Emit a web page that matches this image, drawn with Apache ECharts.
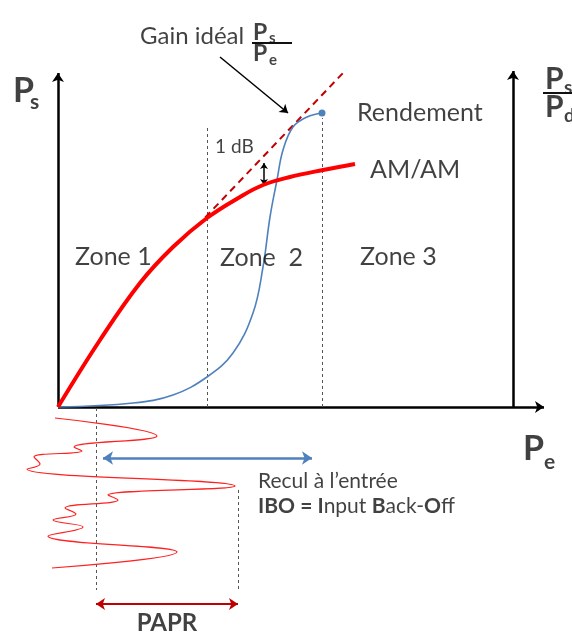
<!DOCTYPE html>
<html>
<head>
<meta charset="utf-8">
<script src="https://cdn.jsdelivr.net/npm/echarts@6/dist/echarts.min.js"></script>
<style>
  html, body { margin: 0; padding: 0; background: #fff; }
  #chart { width: 572px; height: 633px; }
</style>
</head>
<body>
<div id="chart"></div>
<script>
// repère : origine au coin des axes, Pe vers la droite, Ps vers le haut
const amam = [[0, 0], [42, 67], [82, 124], [115, 160], [149, 189], [182, 210], [205, 222], [232, 230], [265, 237], [297, 243]];
const rendement = [[0, 0], [75, 4], [115, 12], [149, 30], [175, 54], [195, 94], [205, 140], [212, 190], [219, 227], [225, 257], [235, 280], [249, 290], [264, 294]];
const gainIdeal = [[139, 181], [285, 334]];
const signal = [[-3, -11], [99, -29], [16, -40], [24, -44], [-24, -50], [-18, -57], [-31, -62], [177, -79], [50, -88], [60, -93], [7, -101], [18, -107], [-5, -113], [25, -120], [-10, -129], [119, -145], [-6, -161]];
const zoneLimits = [[149, 0, 280], [264, 0, 289]];
const papr = [38, 180];
const ibo = [45, 254];

const font = 'Lato';

const seg = (a, b) => ({ coords: [a, b] });

/** texte posé sur le repère */
const txt = (x, y, text, opt) => ({
    value: [x, y],
    label: Object.assign({ show: true, formatter: text, position: 'right', distance: 0, color: '#111', fontFamily: font, fontSize: 25 }, opt || {})
});

const labels = [
    txt(-45, 316, 'P', { fontSize: 34, fontWeight: 'bold' }),
    txt(-28, 305, 's', { fontSize: 21, fontWeight: 'bold' }),
    txt(465, -42, 'P', { fontSize: 34, fontWeight: 'bold' }),
    txt(486, -55, 'e', { fontSize: 21, fontWeight: 'bold' }),
    txt(487, 328, 'P', { fontSize: 30, fontWeight: 'bold' }),
    txt(506, 319, 's', { fontSize: 19, fontWeight: 'bold' }),
    txt(487, 300, 'P', { fontSize: 30, fontWeight: 'bold' }),
    txt(506, 291, 'dc', { fontSize: 19, fontWeight: 'bold' }),
    txt(82, 371, 'Gain idéal', { fontSize: 24 }),
    txt(195, 374, 'P', { fontSize: 23, fontWeight: 'bold' }),
    txt(211, 369, 's', { fontSize: 15, fontWeight: 'bold' }),
    txt(195, 353, 'P', { fontSize: 23, fontWeight: 'bold' }),
    txt(211, 347, 'e', { fontSize: 15, fontWeight: 'bold' }),
    txt(157, 260, '1 dB', { fontSize: 19 }),
    txt(17, 150, 'Zone 1'),
    txt(162, 149, 'Zone  2'),
    txt(302, 150, 'Zone 3'),
    txt(299, 294, 'Rendement'),
    txt(312, 237, 'AM/AM'),
    txt(200, -74, 'Recul à l’entrée', { fontSize: 21 }),
    txt(200, -99, '{b|IBO = I}{n|nput }{b|B}{n|ack-}{b|O}{n|ff}', {
        fontSize: 21,
        rich: {
            b: { fontFamily: font, fontSize: 21, fontWeight: 'bold', color: '#111' },
            n: { fontFamily: font, fontSize: 21, color: '#111' }
        }
    }),
    txt(109, -216, 'PAPR', { position: 'inside', fontSize: 24, fontWeight: 'bold' })
];

const chart = echarts.init(document.getElementById('chart'));

const options = {
    backgroundColor: '#fff',
    animation: false,
    grid: { left: 0, right: 0, top: 0, bottom: 0 },
    xAxis: { type: 'value', min: -58, max: 514, show: false },
    yAxis: { type: 'value', min: -226, max: 407, show: false },
    series: [
        {
            // axes
            type: 'lines',
            coordinateSystem: 'cartesian2d',
            symbol: ['none', 'arrow'],
            symbolSize: 9,
            lineStyle: { color: '#000', width: 2.5, opacity: 1 },
            data: [seg([0, 0], [486, 0]), seg([0, 0], [0, 334]), seg([455, 0], [455, 336])]
        },
        {
            // barres de fraction
            type: 'lines',
            coordinateSystem: 'cartesian2d',
            lineStyle: { color: '#111', width: 2, opacity: 1 },
            data: [seg([194, 364], [234, 364]), seg([485, 314], [516, 314])]
        },
        {
            // limites de zones
            type: 'lines',
            coordinateSystem: 'cartesian2d',
            lineStyle: { color: '#555', width: 1, type: [3, 3], opacity: 1 },
            data: zoneLimits.map(d => seg([d[0], d[1]], [d[0], d[2]]))
                .concat([seg([papr[0], -1], [papr[0], -183]), seg([papr[1], -83], [papr[1], -184])])
        },
        {
            type: 'line',
            data: gainIdeal,
            symbol: 'none',
            lineStyle: { color: '#c00000', width: 2, type: [7, 5] },
            z: 2
        },
        {
            type: 'line',
            data: rendement,
            smooth: 0.4,
            showSymbol: false,
            lineStyle: { color: '#4f81bd', width: 1.6 },
            markPoint: {
                symbol: 'circle',
                symbolSize: 7,
                itemStyle: { color: '#4f81bd' },
                label: { show: false },
                data: [{ coord: rendement[rendement.length - 1] }]
            },
            z: 3
        },
        {
            type: 'line',
            data: amam,
            smooth: 0.4,
            symbol: 'none',
            lineStyle: { color: '#ff0000', width: 4 },
            z: 4
        },
        {
            type: 'line',
            data: signal,
            smooth: 0.45,
            symbol: 'none',
            lineStyle: { color: '#ff2020', width: 1.2 },
            z: 2
        },
        {
            // flèches
            type: 'lines',
            coordinateSystem: 'cartesian2d',
            symbol: ['none', 'arrow'],
            symbolSize: 8,
            lineStyle: { color: '#000', width: 1.5, opacity: 1 },
            data: [seg([162, 350], [230, 294])]
        },
        {
            type: 'lines',
            coordinateSystem: 'cartesian2d',
            symbol: ['arrow', 'arrow'],
            symbolSize: 6,
            lineStyle: { color: '#000', width: 1.5, opacity: 1 },
            data: [seg([206, 244], [206, 222])]
        },
        {
            type: 'lines',
            coordinateSystem: 'cartesian2d',
            symbol: ['arrow', 'arrow'],
            symbolSize: 10,
            lineStyle: { color: '#4f81bd', width: 2.5, opacity: 1 },
            data: [seg([ibo[0], -51], [ibo[1], -51])]
        },
        {
            type: 'lines',
            coordinateSystem: 'cartesian2d',
            symbol: ['arrow', 'arrow'],
            symbolSize: 9,
            lineStyle: { color: '#c00000', width: 2, opacity: 1 },
            data: [seg([papr[0], -197], [papr[1], -197])]
        },
        {
            type: 'scatter',
            symbolSize: 0,
            data: labels,
            z: 10
        }
    ]
};

chart.setOption(options);
</script>
</body>
</html>
